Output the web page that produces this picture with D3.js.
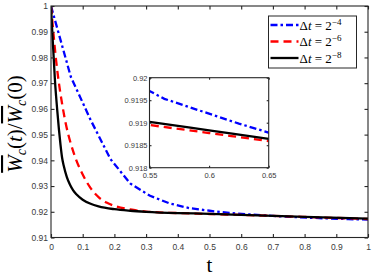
<!DOCTYPE html>
<html>
<head>
<meta charset="utf-8">
<script src="https://cdn.jsdelivr.net/npm/d3@7"></script>
<style>
  body { margin: 0; background: #fff; }
  svg { display: block; }
</style>
</head>
<body>
<div id="chart"></div>
<script>
const W = 374, H = 280;

// dt = 2^-4 (values at multiples of 1/16)
const tBlue = [0, 0.0625, 0.125, 0.1875, 0.25, 0.3125, 0.375, 0.4375, 0.5, 0.5625, 0.625, 0.6875, 0.75, 0.8125, 0.875, 0.9375, 1];
const wBlue = [1, 0.9725, 0.9557, 0.9405, 0.9310, 0.9262, 0.9232, 0.9214, 0.9204, 0.91953, 0.91898, 0.91848, 0.91805, 0.9177, 0.9174, 0.91715, 0.91695];

// dt = 2^-6
const tRed = [0, 0.008, 0.016, 0.025, 0.035, 0.047, 0.0625, 0.08, 0.1, 0.125, 0.15, 0.175, 0.2, 0.25, 0.3, 0.4, 0.5, 0.55, 0.6, 0.65, 0.8, 1];
const wRed = [1, 0.989, 0.979, 0.970, 0.962, 0.954, 0.9465, 0.940, 0.9345, 0.9292, 0.9257, 0.9236, 0.9223, 0.9209, 0.9201, 0.9195, 0.91914, 0.91895, 0.91877, 0.91859, 0.9180, 0.9172];

// dt = 2^-8
const tBlack = [0, 0.004, 0.008, 0.012, 0.016, 0.02, 0.025, 0.03, 0.035, 0.04, 0.05, 0.06, 0.07, 0.08, 0.1, 0.125, 0.15, 0.2, 0.25, 0.3, 0.4, 0.5, 0.55, 0.6, 0.65, 0.8, 1];
const wBlack = [1, 0.990, 0.981, 0.972, 0.965, 0.959, 0.952, 0.946, 0.941, 0.938, 0.9335, 0.9305, 0.9283, 0.9268, 0.9247, 0.9231, 0.9221, 0.9210, 0.9204, 0.9200, 0.9195, 0.91922, 0.91902, 0.91883, 0.91864, 0.91805, 0.9173];

const seriesExp = ['-4', '-6', '-8'];
const seriesColor = ['#0000ff', '#ff0000', '#000000'];

const xTicks = [0, 0.1, 0.2, 0.3, 0.4, 0.5, 0.6, 0.7, 0.8, 0.9, 1];
const xTickLabels = ['0', '0.1', '0.2', '0.3', '0.4', '0.5', '0.6', '0.7', '0.8', '0.9', '1'];
const yTicks = [0.91, 0.92, 0.93, 0.94, 0.95, 0.96, 0.97, 0.98, 0.99, 1];
const yTickLabels = ['0.91', '0.92', '0.93', '0.94', '0.95', '0.96', '0.97', '0.98', '0.99', '1'];

const insetXTicks = [0.55, 0.6, 0.65];
const insetXTickLabels = ['0.55', '0.6', '0.65'];
const insetYTicks = [0.918, 0.9185, 0.919, 0.9195, 0.92];
const insetYTickLabels = ['0.918', '0.9185', '0.919', '0.9195', '0.92'];

const series = [
  { t: tBlue, w: wBlue, dash: '7,3,2.5,3', curve: d3.curveLinear },
  { t: tRed, w: wRed, dash: '8,5', curve: d3.curveMonotoneX },
  { t: tBlack, w: wBlack, dash: null, curve: d3.curveMonotoneX }
].map((s, i) => ({ ...s, color: seriesColor[i], exp: seriesExp[i],
  pts: s.t.map((t, j) => [t, s.w[j]]) }));

const svg = d3.select('#chart').append('svg')
  .attr('width', W).attr('height', H).attr('viewBox', `0 0 ${W} ${H}`);

const axisColor = '#262626';
const tickFont = 'Liberation Sans, Arial, sans-serif';

function drawAxes (g, x, y, opt) {
  const [x0, x1] = x.range();
  const [y0, y1] = y.range();
  const style = sel => {
    sel.select('.domain').remove();
    sel.selectAll('line').attr('stroke', axisColor).attr('stroke-width', opt.lw);
    sel.selectAll('text').attr('fill', '#3a3a3a')
      .attr('font-family', tickFont).attr('font-size', opt.fs);
  };
  g.append('g').attr('transform', `translate(0,${y0})`)
    .call(d3.axisBottom(x).tickValues(opt.xt).tickFormat((d, i) => opt.xl[i])
      .tickSize(-opt.tl).tickPadding(opt.pad + 3))
    .call(style);
  g.append('g').attr('transform', `translate(${x0},0)`)
    .call(d3.axisLeft(y).tickValues(opt.yt).tickFormat((d, i) => opt.yl[i])
      .tickSize(-opt.tl).tickPadding(opt.pad))
    .call(style);
  g.append('g').attr('transform', `translate(0,${y1})`)
    .call(d3.axisTop(x).tickValues(opt.xt).tickFormat('').tickSize(-opt.tl))
    .call(style);
  g.append('g').attr('transform', `translate(${x1},0)`)
    .call(d3.axisRight(y).tickValues(opt.yt).tickFormat('').tickSize(-opt.tl))
    .call(style);
  g.append('rect')
    .attr('x', x0).attr('y', y1).attr('width', x1 - x0).attr('height', y0 - y1)
    .attr('fill', 'none').attr('stroke', axisColor).attr('stroke-width', opt.lw);
}

function drawLines (g, x, y, clipId) {
  const line = s => d3.line().curve(s.curve).x(d => x(d[0])).y(d => y(d[1]))(s.pts);
  g.append('g').attr('clip-path', `url(#${clipId})`)
    .selectAll('path').data(series).enter().append('path')
      .attr('d', line)
      .attr('fill', 'none')
      .attr('stroke', s => s.color)
      .attr('stroke-width', 2.3)
      .attr('stroke-dasharray', s => s.dash);
}

// main axes
const x = d3.scaleLinear().domain([0, 1]).range([51, 368]);
const y = d3.scaleLinear().domain([0.91, 1]).range([237.5, 6]);

svg.append('clipPath').attr('id', 'clipMain').append('rect')
  .attr('x', 51).attr('y', 6).attr('width', 317).attr('height', 231.5);

const main = svg.append('g');
drawLines(main, x, y, 'clipMain');
drawAxes(main, x, y, { xt: xTicks, xl: xTickLabels, yt: yTicks, yl: yTickLabels,
  tl: 3.5, pad: 3, fs: '8.5px', lw: 1.1 });

// axis labels
main.append('text')
  .attr('x', 209.5).attr('y', 272)
  .attr('text-anchor', 'middle')
  .attr('font-family', 'Liberation Serif, Times New Roman, serif')
  .attr('font-size', '21px')
  .text('t');

const yl = main.append('text')
  .attr('transform', 'translate(22,124) rotate(-90)')
  .attr('text-anchor', 'middle')
  .attr('font-family', 'Liberation Serif, Times New Roman, serif')
  .attr('font-size', '21px');
yl.append('tspan').attr('font-style', 'italic').style('text-decoration', 'overline').text('W');
yl.append('tspan').attr('font-style', 'italic').attr('font-size', '14px').attr('dy', 4).text('c');
yl.append('tspan').attr('dy', -4).text('(');
yl.append('tspan').attr('font-style', 'italic').text('t');
yl.append('tspan').text(')/');
yl.append('tspan').attr('font-style', 'italic').style('text-decoration', 'overline').text('W');
yl.append('tspan').attr('font-style', 'italic').attr('font-size', '14px').attr('dy', 4).text('c');
yl.append('tspan').attr('dy', -4).text('(0)');

// inset
const xi = d3.scaleLinear().domain([0.55, 0.65]).range([149.5, 268.7]);
const yi = d3.scaleLinear().domain([0.918, 0.92]).range([167.7, 77.7]);

svg.append('clipPath').attr('id', 'clipInset').append('rect')
  .attr('x', 149.5).attr('y', 77.7).attr('width', 119.2).attr('height', 90);

const inset = svg.append('g');
inset.append('rect')
  .attr('x', 149.5).attr('y', 77.7).attr('width', 119.2).attr('height', 90)
  .attr('fill', '#fff');
drawLines(inset, xi, yi, 'clipInset');
drawAxes(inset, xi, yi, { xt: insetXTicks, xl: insetXTickLabels, yt: insetYTicks, yl: insetYTickLabels,
  tl: 2, pad: 2, fs: '7.5px', lw: 1.1 });

// legend
const lg = svg.append('g').attr('transform', 'translate(268.5,16)');
lg.append('rect').attr('width', 88).attr('height', 52)
  .attr('fill', '#fff').attr('stroke', '#262626').attr('stroke-width', 1);
const item = lg.selectAll('g.item').data(series).enter().append('g')
  .attr('class', 'item')
  .attr('transform', (d, i) => `translate(0,${9 + i * 16.5})`);
item.append('line')
  .attr('x1', 2).attr('x2', 30)
  .attr('stroke', d => d.color).attr('stroke-width', 2.3)
  .attr('stroke-dasharray', d => d.dash);
const lt = item.append('text')
  .attr('x', 31).attr('y', 4.5)
  .attr('font-family', 'Liberation Serif, Times New Roman, serif')
  .attr('font-size', '13px');
lt.append('tspan').text('Δ');
lt.append('tspan').attr('font-style', 'italic').text('t');
lt.append('tspan').text(' = 2');
lt.append('tspan').attr('font-size', '9px').attr('dy', -5).text(d => d.exp.replace('-', '−'));
</script>
</body>
</html>
